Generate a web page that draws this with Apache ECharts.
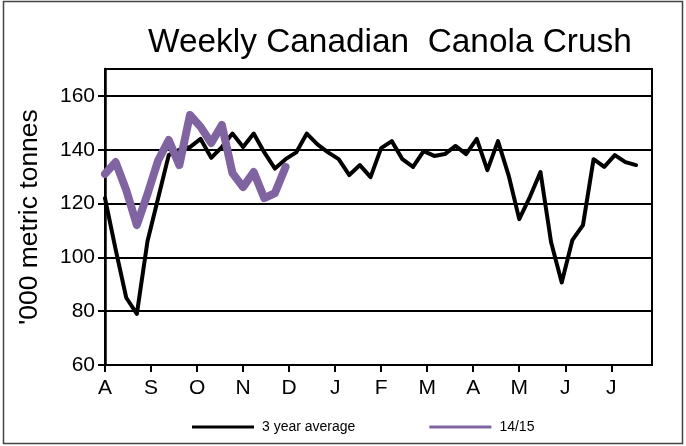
<!DOCTYPE html>
<html>
<head>
<meta charset="utf-8">
<script src="https://cdn.jsdelivr.net/npm/echarts@6/dist/echarts.min.js"></script>
<style>
  html, body { margin: 0; padding: 0; background: #fff; }
  #chart { width: 686px; height: 446px; }
</style>
</head>
<body>
<div id="chart"></div>
<script>
// month labels on the x axis (crop year Aug -> Jul)
const months = ["A", "S", "O", "N", "D", "J", "F", "M", "A", "M", "J", "J"];
// weekly crush, '000 tonnes
const avg3yr = [122, 103, 85, 79, 106, 122, 138, 140, 141, 144, 137, 141, 146, 141, 146, 139, 133, 136.5,
  139, 146, 142, 139, 136.5, 130.6, 134.3, 129.8, 140.6, 143.2, 136.5, 133.6, 139.5, 137.7, 138.4, 141.4,
  138.4, 144, 132.4, 143.2, 130.5, 114.2, 122.4, 131.7, 105.6, 90.7, 106.4, 112, 136.5, 133.6, 138, 135.4, 134.3];
const crop1415 = [131, 135.4, 125, 112, 123.5, 136, 143.6, 134.3, 152.9, 148.5, 142.5, 149.2, 131.3, 126.1,
  131.7, 122, 123.9, 133.6];
const yTicks = [60, 80, 100, 120, 140, 160];

const weeksPerMonth = 52 / 12;
const monthTicks = months.map((m, i) => i * weeksPerMonth);

const myChart = echarts.init(document.getElementById("chart"));
myChart.setOption({
  animation: false,
  backgroundColor: "#fff",
  textStyle: { fontFamily: "Liberation Sans, Arial, sans-serif" },
  title: {
    text: "Weekly Canadian  Canola Crush",
    left: 143,
    top: 21,
    textStyle: { fontSize: 33.4, fontWeight: "normal", color: "#000" }
  },
  graphic: [{
    type: "rect",
    shape: { x: 3.5, y: 1.5, width: 679, height: 442 },
    style: { fill: null, stroke: "#444", lineWidth: 1.5 },
    silent: true
  }],
  legend: {
    data: ["3 year average", "14/15"],
    left: 187,
    top: 415,
    icon: "rect",
    itemWidth: 62,
    itemHeight: 3,
    itemGap: 74,
    textStyle: { fontSize: 14, color: "#000", padding: [0, 0, 0, 3] }
  },
  grid: {
    left: 105,
    right: 34,
    top: 69,
    bottom: 81,
    show: true,
    borderColor: "#000",
    borderWidth: 2
  },
  xAxis: {
    type: "value",
    min: 0,
    max: 51.5,
    interval: weeksPerMonth,
    axisLine: { lineStyle: { color: "#000", width: 2 } },
    axisTick: { show: true, length: 7, customValues: monthTicks, lineStyle: { color: "#000", width: 2 } },
    axisLabel: {
      customValues: monthTicks,
      fontSize: 21,
      color: "#000",
      margin: 13,
      formatter: v => months[Math.round(v / weeksPerMonth)] || ""
    },
    splitLine: { show: false }
  },
  yAxis: {
    type: "value",
    min: 60,
    max: 170,
    interval: 20,
    name: "'000 metric tonnes",
    nameLocation: "middle",
    nameRotate: 90,
    nameGap: 62,
    nameTextStyle: { fontSize: 26.5, color: "#000" },
    axisLine: { show: true, lineStyle: { color: "#000", width: 2.5 } },
    axisTick: { show: true, length: 7, customValues: yTicks, lineStyle: { color: "#000", width: 2 } },
    axisLabel: {
      customValues: yTicks,
      fontSize: 21,
      color: "#000",
      margin: 10
    },
    splitLine: { show: true, lineStyle: { color: "#000", width: 2 } }
  },
  series: [
    {
      name: "3 year average",
      type: "line",
      symbol: "none",
      color: "#000",
      lineStyle: { color: "#000", width: 4, join: "round", cap: "round" },
      data: avg3yr.map((v, i) => [i, v])
    },
    {
      name: "14/15",
      type: "line",
      symbol: "none",
      color: "#8064A2",
      lineStyle: { color: "#8064A2", width: 8, join: "round", cap: "round" },
      data: crop1415.map((v, i) => [i, v])
    }
  ]
});
</script>
</body>
</html>
